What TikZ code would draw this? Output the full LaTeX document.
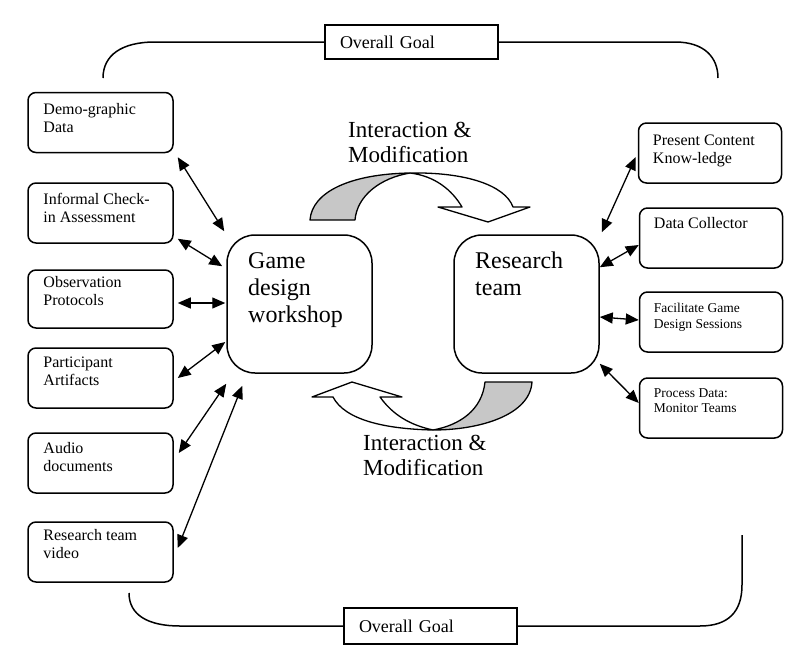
\documentclass[tikz,border=0pt]{standalone}
\usepackage{fontspec}
\setmainfont{Liberation Serif}
\usetikzlibrary{arrows.meta}
\usetikzlibrary{calc}

\tikzset{
    smallbox/.style={draw, rounded corners=8pt, line width=1.5pt, minimum width=145pt, minimum height=60pt, inner sep=0pt},
    bigbox/.style={draw, rounded corners=28pt, line width=1.5pt, minimum width=145pt, minimum height=138pt, inner sep=0pt},
    boxtext/.style={anchor=north west, align=left, inner sep=0pt, font=\fontsize{16}{18}\selectfont},
    smalltext/.style={anchor=north west, align=left, inner sep=0pt, font=\fontsize{13.5}{15.5}\selectfont},
    bigtext/.style={anchor=north west, align=left, inner sep=0pt, font=\fontsize{24}{27}\selectfont},
    looptext/.style={anchor=north west, align=left, inner sep=0pt, font=\fontsize{23}{25}\selectfont},
    goal/.style={draw, line width=1.5pt, minimum height=34pt, text width=143pt, inner xsep=15pt, inner ysep=0pt, align=left, font=\fontsize{18}{20}\selectfont},
    link/.style={line width=1.3pt, {Triangle[length=13pt,width=11pt]}-{Triangle[length=13pt,width=11pt]}},
    goalline/.style={line width=1.5pt},
    loop/.style={line width=1.3pt, line join=round},
}

\begin{document}
\begin{tikzpicture}[x=1pt, y=-1pt]
        \useasboundingbox (0,0) rectangle (796,659);

        \coordinate (TL) at (103,78);
        \coordinate (TR) at (718,78);
        \coordinate (BL) at (129,593);
        \coordinate (BR) at (742,535);

        % centre boxes
        \node[bigbox] (game) at (299.5,304) {};
        \node[bigbox] (research) at (526.5,304) {};
        \node[bigtext] (gametext) at (248,252) {Game\\design\\workshop};
        \node[bigtext] (researchtext) at (475,252) {Research\\team};

        % left column
        \node[smallbox] (demo) at (100.5,122.5) {};
        \node[smallbox] (informal) at (100.5,213) {};
        \node[smallbox, minimum height=58pt] (observation) at (100.5,299) {};
        \node[smallbox] (artifacts) at (100.5,378) {};
        \node[smallbox] (audio) at (100.5,463) {};
        \node[smallbox] (video) at (100.5,552) {};

        \node[boxtext] (demotext) at ($(demo.north west)+(16,11)$) {Demo-graphic\\Data};
        \node[boxtext] (informaltext) at ($(informal.north west)+(16,11)$) {Informal Check-\\in Assessment};
        \node[boxtext] (observationtext) at ($(observation.north west)+(16,7)$) {Observation\\Protocols};
        \node[boxtext] (artifactstext) at ($(artifacts.north west)+(16,9)$) {Participant\\Artifacts};
        \node[boxtext] (audiotext) at ($(audio.north west)+(16,10)$) {Audio\\documents};
        \node[boxtext] (videotext) at ($(video.north west)+(16,8)$) {Research team\\video};

        % right column
        \node[smallbox, minimum width=143pt] (present) at (710,153) {};
        \node[smallbox, minimum width=143pt] (collector) at (711,238) {};
        \node[smallbox, minimum width=143pt] (facilitate) at (711,322) {};
        \node[smallbox, minimum width=143pt] (process) at (711,408) {};

        \node[boxtext] (presenttext) at ($(present.north west)+(15,12)$) {Present Content\\Know-ledge};
        \node[boxtext] (collectortext) at ($(collector.north west)+(15,10)$) {Data Collector};
        \node[smalltext] (facilitatetext) at ($(facilitate.north west)+(15,12)$) {Facilitate Game\\Design Sessions};
        \node[smalltext] (processtext) at ($(process.north west)+(15,11)$) {Process Data:\\Monitor Teams};

        % links
        \draw[link] ([shift={(4,4)}]demo.south east) -- ([shift={(-2,-3)}]game.north west);
        \draw[link] ([shift={(4,-5)}]informal.south east) -- ([shift={(-4,32)}]game.north west);
        \draw[link] ([shift={(4,4)}]observation.east) -- ([shift={(-1,-1)}]game.west);
        \draw[link] ([shift={(4,0)}]artifacts.east) -- ([shift={(-1,38)}]game.west);
        \draw[link] ([shift={(5,-10)}]audio.east) -- ([shift={(0,10)}]game.south west);
        \draw[link] ([shift={(4,-4)}]video.east) -- ([shift={(16,12)}]game.south west);

        \draw[link] ([shift={(2,-2)}]research.north east) -- ([shift={(-2,4)}]present.west);
        \draw[link] ([shift={(0,33)}]research.north east) -- ([shift={(0,7)}]collector.west);
        \draw[link] ([shift={(0,13)}]research.east) -- ([shift={(0,-2)}]facilitate.west);
        \draw[link] ([shift={(0,-10)}]research.south east) -- ([shift={(0,-5)}]process.west);

        % interaction loops
        \filldraw[loop, fill=black!22] (310,220) .. controls (312,192) and (350,174) .. (410,173)
            .. controls (380,178) and (357,196) .. (355,220) -- cycle;
        \filldraw[loop, fill=white] (410,173) .. controls (465,172) and (505,185) .. (513,207)
            -- (530,207) -- (488,222) -- (438,207) -- (462,207)
            .. controls (452,190) and (435,176) .. (410,173) -- cycle;
        \node[looptext] (looptop) at (348,122) {Interaction \&\\Modification};

        \filldraw[loop, fill=black!22] (485,382) .. controls (482,410) and (460,425) .. (433,430)
            .. controls (480,430) and (530,415) .. (532,382) -- cycle;
        \filldraw[loop, fill=white] (433,430) .. controls (385,429) and (345,420) .. (333,397)
            -- (312,397) -- (352,382) -- (402,397) -- (380,397)
            .. controls (393,415) and (410,425) .. (433,430) -- cycle;
        \node[looptext] (loopbottom) at (363,435) {Interaction \&\\Modification};

        % overall goal
        \node[goal] (goaltop) at (411.5,42) {Overall Goal};
        \node[goal, minimum height=36pt] (goalbottom) at (430.5,626) {Overall Goal};

        \draw[goalline] (TL) .. controls (103,55) and (122,42) .. (155,42) -- (goaltop.west);
        \draw[goalline] (goaltop.east) -- (675,42) .. controls (705,42) and (718,58) .. (TR);
        \draw[goalline] (BL) .. controls (129,615) and (148,626) .. (180,626) -- (goalbottom.west);
        \draw[goalline] (goalbottom.east) -- (700,626) .. controls (728,626) and (742,612) .. (742,585) -- (BR);

    \end{tikzpicture}
\end{document}
